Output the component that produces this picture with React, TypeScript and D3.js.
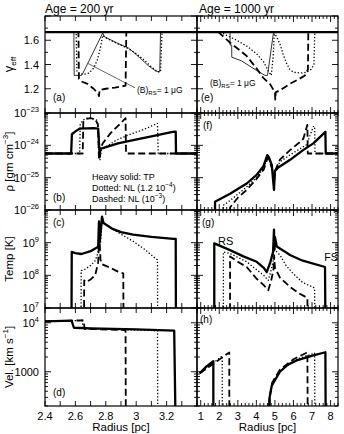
import React, { useEffect, useRef } from "react";
import * as d3 from "d3";

type Pt = [number, number];

// values used for "off the panel" stretches (clipped away)
const G53 = 5 / 3;
const RHO_ISM = 5.6e-25;
const RHO_OFF = 1e-28;
const T_OFF = 1e5;
const V_OFF = 50;

// radius axes
const radiusDomain200: [number, number] = [2.4, 3.4];
const radiusDomain1000: [number, number] = [0.8, 8.4];
const radiusLabels200 = [2.4, 2.6, 2.8, 3, 3.2];
const radiusLabels1000 = [1, 2, 3, 4, 5, 6, 7, 8];

// y axes
const gammaDomain: [number, number] = [1.0, 1.8];
const rhoDomain: [number, number] = [1e-26, 1e-23];
const tempDomain: [number, number] = [1e7, 1e10];
const velDomain: [number, number] = [200, 2e4];
const gammaLabels = [1.2, 1.4, 1.6];
const rhoLabelExp = [-23, -24, -25, -26];
const tempLabelExp = [9, 8, 7];
const velLabels = ["10^4", "1000"];
const velLabelValues = [1e4, 1000];

// ---- Age = 200 yr ----
const gamma200TP: Pt[] = [[2.4, G53], [3.4, G53]];
const gamma200Dotted: Pt[] = [
  [2.4, G53], [2.605, G53], [2.61, 1.34], [2.63, 1.32], [2.66, 1.32], [2.69, 1.33],
  [2.72, 1.37], [2.745, 1.44], [2.765, 1.54], [2.78, 1.64], [2.8, 1.62], [2.88, 1.57],
  [2.95, 1.53], [3.0, 1.49], [3.05, 1.44], [3.1, 1.38], [3.14, 1.34], [3.16, 1.34],
  [3.17, G53], [3.4, G53],
];
const gamma200Dashed: Pt[] = [
  [2.4, G53], [2.62, G53], [2.623, 1.28], [2.64, 1.26], [2.68, 1.24], [2.72, 1.2],
  [2.75, 1.16], [2.755, 1.14], [2.76, 1.19], [2.8, 1.2], [2.86, 1.21], [2.93, 1.225],
  [2.935, G53], [3.4, G53],
];
const gamma200Thin: Pt[] = [
  [2.4, G53], [2.59, G53], [2.592, 1.31], [2.64, 1.31], [2.65, 1.33], [2.78, 1.66],
  [2.79, 1.63], [2.87, 1.58], [2.95, 1.535], [3.02, 1.46], [3.08, 1.39], [3.13, 1.345],
  [3.155, 1.34], [3.16, G53], [3.4, G53],
];

const rho200TP: Pt[] = [
  [2.4, RHO_ISM], [2.572, RHO_ISM], [2.577, 2.2e-24], [2.6, 2.7e-24], [2.63, 3.3e-24],
  [2.72, 3.4e-24], [2.75, 3.3e-24], [2.755, 1.2e-24], [2.76, 4.5e-25], [2.765, 8e-25],
  [2.78, 8.2e-25], [2.88, 1.15e-24], [2.98, 1.45e-24], [3.1, 1.9e-24], [3.24, 2.6e-24],
  [3.26, 2.65e-24], [3.262, RHO_ISM], [3.4, RHO_ISM],
];
const rho200Dotted: Pt[] = [
  [2.4, RHO_ISM], [2.628, RHO_ISM], [2.632, 4.5e-24], [2.65, 6e-24], [2.67, 6.9e-24],
  [2.71, 6.8e-24], [2.74, 6e-24], [2.755, 2e-24], [2.762, 3.6e-25], [2.77, 7e-25],
  [2.8, 9e-25], [2.87, 1.45e-24], [2.95, 2.1e-24], [3.05, 3.1e-24], [3.14, 4.8e-24],
  [3.145, RHO_ISM], [3.4, RHO_ISM],
];
const rho200Dashed: Pt[] = [
  [2.4, RHO_ISM], [2.648, RHO_ISM], [2.652, 5.2e-24], [2.67, 6.5e-24], [2.7, 6.9e-24],
  [2.73, 6.4e-24], [2.748, 4.5e-24], [2.755, 3.8e-25], [2.765, 8e-25], [2.78, 1.15e-24],
  [2.83, 2.35e-24], [2.88, 4e-24], [2.93, 6.9e-24], [2.933, RHO_ISM], [3.4, RHO_ISM],
];

const temp200TP: Pt[] = [
  [2.4, T_OFF], [2.573, T_OFF], [2.576, 5.2e8], [2.6, 4.8e8], [2.64, 4.5e8], [2.7, 5.5e8],
  [2.75, 7.5e8], [2.755, 4.5e9], [2.76, 1e9], [2.775, 6.3e9], [2.785, 4e9], [2.8, 3.6e9],
  [2.84, 2.7e9], [2.9, 2.1e9], [2.98, 1.75e9], [3.1, 1.5e9], [3.245, 1.3e9], [3.26, 1.3e9],
  [3.262, T_OFF],
];
const temp200Dotted: Pt[] = [
  [2.4, T_OFF], [2.636, T_OFF], [2.638, 1.4e8], [2.66, 1.5e8], [2.7, 2e8], [2.73, 2.8e8],
  [2.75, 5e8], [2.758, 4.5e9], [2.765, 1e9], [2.775, 4.2e9], [2.8, 3.5e9], [2.87, 2.2e9],
  [2.98, 1.1e9], [3.05, 6.5e8], [3.13, 3.2e8], [3.14, 3e8], [3.142, T_OFF],
];
const temp200Dashed: Pt[] = [
  [2.4, T_OFF], [2.655, T_OFF], [2.658, 7e7], [2.67, 6.2e7], [2.7, 7.5e7], [2.73, 1e8],
  [2.75, 2.5e8], [2.757, 2e9], [2.765, 3e8], [2.775, 2.2e8], [2.83, 1.7e8], [2.88, 1.3e8],
  [2.915, 1.15e8], [2.918, T_OFF],
];

const vel200TP: Pt[] = [
  [2.4, 1.07e4], [2.575, 1.1e4], [2.59, 7.9e3], [2.7, 7.7e3], [3.0, 7.3e3], [3.25, 6.9e3],
  [3.26, V_OFF],
];
const vel200Dotted: Pt[] = [
  [2.4, 1.07e4], [2.64, 1.11e4], [2.645, 1.2e4], [2.65, 7.6e3], [3.14, 6.9e3], [3.142, V_OFF],
];
const vel200Dashed: Pt[] = [
  [2.4, 1.07e4], [2.655, 1.12e4], [2.66, 7.5e3], [2.93, 7.1e3], [2.932, V_OFF],
];

// ---- Age = 1000 yr ----
const gamma1000TP: Pt[] = [[0.8, G53], [8.4, G53]];
const gamma1000Dotted: Pt[] = [
  [0.8, G53], [2.1, G53], [2.4, 1.64], [2.94, 1.6], [3.5, 1.55], [4.0, 1.49], [4.4, 1.42],
  [4.63, 1.35], [4.8, 1.31], [4.9, 1.45], [4.97, G53], [5.05, 1.64], [5.27, 1.57],
  [5.45, 1.48], [5.64, 1.405], [5.8, 1.36], [6.0, 1.336], [6.4, 1.33], [6.71, 1.336],
  [6.95, 1.36], [7.1, 1.4], [7.15, G53], [8.4, G53],
];
const gamma1000Dashed: Pt[] = [
  [0.8, G53], [1.95, G53], [2.3, 1.62], [2.58, 1.58], [3.0, 1.53], [3.48, 1.47], [4.0, 1.37],
  [4.37, 1.29], [4.73, 1.24], [5.0, 1.17], [5.02, 1.11], [5.04, 1.17], [5.3, 1.19],
  [5.8, 1.24], [6.3, 1.28], [6.62, 1.31], [6.78, 1.36], [6.8, G53], [8.4, G53],
];
const gamma1000Thin: Pt[] = [
  [0.8, G53], [2.58, G53], [2.585, 1.56], [2.67, 1.56], [2.675, 1.46], [3.2, 1.43],
  [4.02, 1.35], [4.47, 1.31], [4.6, 1.31], [4.9, 1.64], [4.93, G53], [8.4, G53],
];

const rho1000TP: Pt[] = [
  [1.77, RHO_OFF], [1.772, 1.8e-26], [2.58, 3.2e-26], [3.48, 6.6e-26], [4.0, 1.2e-25],
  [4.37, 2.2e-25], [4.59, 5e-25], [4.65, 4.6e-25], [4.83, 2.5e-25], [4.95, 4.2e-26],
  [5.0, 1.6e-25], [5.2, 2.1e-25], [5.8, 3.5e-25], [6.5, 7e-25], [7.07, 1.15e-24],
  [7.72, 2.6e-24], [7.74, RHO_ISM], [8.4, RHO_ISM],
];
const rho1000Dotted: Pt[] = [
  [2.22, RHO_OFF], [2.222, 1.4e-26], [2.6, 2e-26], [3.48, 5.2e-26], [4.0, 1e-25],
  [4.4, 2e-25], [4.62, 4.5e-25], [4.7, 4e-25], [4.86, 2e-25], [4.95, 6e-26], [5.0, 1.5e-25],
  [5.27, 3.1e-25], [5.8, 5e-25], [6.3, 7.5e-25], [6.71, 1.05e-24], [7.07, 3.8e-24],
  [7.14, 3.9e-24], [7.16, RHO_ISM], [8.4, RHO_ISM],
];
const rho1000Dashed: Pt[] = [
  [2.58, RHO_OFF], [2.582, 1.2e-26], [3.0, 2.4e-26], [3.48, 4.2e-26], [4.0, 9e-26],
  [4.4, 1.8e-25], [4.6, 4e-25], [4.68, 3.8e-25], [4.86, 1.8e-25], [4.95, 7e-26],
  [5.0, 1.6e-25], [5.27, 3.6e-25], [5.8, 7e-25], [6.3, 1.2e-24], [6.53, 1.6e-24],
  [6.75, 4.3e-24], [6.77, RHO_ISM], [8.4, RHO_ISM],
];

const temp1000TP: Pt[] = [
  [1.73, T_OFF], [1.732, 9.5e8], [2.58, 5.9e8], [3.3, 3.8e8], [4.02, 2.6e8], [4.4, 1.7e8],
  [4.56, 1.25e8], [4.75, 2.5e8], [4.9, 5.2e8], [4.95, 2.5e9], [4.97, 6e8], [5.0, 1.5e9],
  [5.1, 7.6e8], [5.5, 5.5e8], [5.81, 4.2e8], [6.5, 2.8e8], [7.7, 1.8e8], [7.74, T_OFF],
];
const temp1000Dotted: Pt[] = [
  [2.22, T_OFF], [2.222, 5.2e8], [2.6, 4.6e8], [3.48, 2.6e8], [4.0, 1.5e8], [4.4, 1e8],
  [4.64, 7e7], [4.8, 1.5e8], [4.92, 3e8], [4.96, 1.5e9], [5.0, 6e8], [5.27, 4.2e8],
  [5.6, 2e8], [6.0, 1.1e8], [6.5, 6e7], [7.07, 4.3e7], [7.14, 4e7], [7.16, T_OFF],
];
const temp1000Dashed: Pt[] = [
  [2.58, T_OFF], [2.582, 3.8e8], [3.0, 2.6e8], [3.48, 1.8e8], [4.0, 8e7], [4.4, 5e7],
  [4.64, 3.5e7], [4.8, 7e7], [4.92, 1.5e8], [4.96, 4e8], [5.0, 1.7e8], [5.27, 8.5e7],
  [5.8, 4.5e7], [6.3, 2.8e7], [6.71, 2.1e7], [6.75, 2e7], [6.77, T_OFF],
];

const vel1000TP: Pt[] = [
  [0.95, 930], [1.3, 1270], [1.68, 1640], [1.682, V_OFF], [4.65, V_OFF], [4.7, 280],
  [4.83, 520], [5.27, 1000], [5.7, 1400], [6.17, 1700], [7.07, 2150], [7.72, 2500],
  [7.74, V_OFF],
];
const vel1000Dotted: Pt[] = [
  [0.95, 930], [2.16, 2100], [2.162, V_OFF], [4.67, V_OFF], [4.72, 300], [4.85, 560],
  [5.27, 1050], [6.17, 1800], [7.07, 2350], [7.14, 2400], [7.16, V_OFF],
];
const vel1000Dashed: Pt[] = [
  [0.95, 930], [2.54, 2480], [2.542, V_OFF], [4.68, V_OFF], [4.73, 320], [4.85, 600],
  [5.27, 1100], [6.0, 1800], [6.71, 2450], [6.75, 2480], [6.77, V_OFF],
];

// layout
const W = 344;
const H = 434;
const colX = [[45, 197], [197, 338]];
const rowY = [16, 113, 210, 308, 406];
const FONT = "'Liberation Sans', Arial, Helvetica, sans-serif";

const lineStyles: Record<string, { w: number; dash: string | null }> = {
  dashed: { w: 1.8, dash: "7 3.5" },
  dotted: { w: 1.3, dash: "1.3 2" },
  thin: { w: 0.8, dash: null },
  tp: { w: 2.3, dash: null },
};

type Panel = {
  col: number;
  row: number;
  letter: string;
  letterPos: [number, number];
  series: Record<string, Pt[]>;
};

const panels: Panel[] = [
  { col: 0, row: 0, letter: "(a)", letterPos: [8, 85], series: { dashed: gamma200Dashed, dotted: gamma200Dotted, thin: gamma200Thin, tp: gamma200TP } },
  { col: 0, row: 1, letter: "(b)", letterPos: [8, 88], series: { dashed: rho200Dashed, dotted: rho200Dotted, tp: rho200TP } },
  { col: 0, row: 2, letter: "(c)", letterPos: [8, 16], series: { dashed: temp200Dashed, dotted: temp200Dotted, tp: temp200TP } },
  { col: 0, row: 3, letter: "(d)", letterPos: [8, 88], series: { dashed: vel200Dashed, dotted: vel200Dotted, tp: vel200TP } },
  { col: 1, row: 0, letter: "(e)", letterPos: [4, 85], series: { dashed: gamma1000Dashed, dotted: gamma1000Dotted, thin: gamma1000Thin, tp: gamma1000TP } },
  { col: 1, row: 1, letter: "(f)", letterPos: [6, 16], series: { dashed: rho1000Dashed, dotted: rho1000Dotted, tp: rho1000TP } },
  { col: 1, row: 2, letter: "(g)", letterPos: [5, 16], series: { dashed: temp1000Dashed, dotted: temp1000Dotted, tp: temp1000TP } },
  { col: 1, row: 3, letter: "(h)", letterPos: [3, 15], series: { dashed: vel1000Dashed, dotted: vel1000Dotted, tp: vel1000TP } },
];

const yScaleFor = (row: number, y0: number, y1: number) => {
  if (row === 0) return d3.scaleLinear().domain(gammaDomain).range([y1, y0]);
  const dom = row === 1 ? rhoDomain : row === 2 ? tempDomain : velDomain;
  return d3.scaleLog().domain(dom).range([y1, y0]);
};

// "10" with a raised exponent
const powerLabel = (sel: any, base: string, exp: string, big = 11, small = 7.5) => {
  sel.append("tspan").attr("font-size", big).text(base);
  sel.append("tspan").attr("font-size", small).attr("dy", -5).text(exp);
};

const App = () => {
  const svgRef = useRef<SVGSVGElement>(null);

  useEffect(() => {
    const svg = d3.select(svgRef.current);
    svg.selectAll("*").remove();
    const defs = svg.append("defs");

    const scalesFor = (p: Panel) => {
      const [x0, x1] = colX[p.col];
      const y0 = rowY[p.row];
      const y1 = rowY[p.row + 1];
      const x = d3.scaleLinear().domain(p.col ? radiusDomain1000 : radiusDomain200).range([x0, x1]);
      const y: any = yScaleFor(p.row, y0, y1);
      return { x, y, x0, x1, y0, y1 };
    };

    panels.forEach((p, i) => {
      const { x, y, x0, x1, y0, y1 } = scalesFor(p);
      defs.append("clipPath").attr("id", `clip${i}`)
        .append("rect").attr("x", x0).attr("y", y0).attr("width", x1 - x0).attr("height", y1 - y0);

      const g = svg.append("g").attr("clip-path", `url(#clip${i})`);
      const line = d3.line<Pt>().x((d) => x(d[0])).y((d) => y(d[1]));
      Object.keys(lineStyles).forEach((k) => {
        const data = p.series[k];
        if (!data) return;
        const st = lineStyles[k];
        g.append("path")
          .attr("d", line(data))
          .attr("fill", "none")
          .attr("stroke", "#000")
          .attr("stroke-width", st.w)
          .attr("stroke-dasharray", st.dash)
          .attr("stroke-linejoin", "round");
      });

      // ticks
      const tk = svg.append("g").attr("stroke", "#000").attr("stroke-width", 0.9);
      const xt: [number, number][] = p.col === 0
        ? d3.range(24, 35).map((v) => [v / 10, 5])
        : d3.range(4, 43).map((v) => [v / 5, v % 5 === 0 ? 6 : 3]);
      xt.forEach(([v, len]) => {
        const px = x(v);
        tk.append("line").attr("x1", px).attr("x2", px).attr("y1", y0).attr("y2", y0 + len);
        tk.append("line").attr("x1", px).attr("x2", px).attr("y1", y1).attr("y2", y1 - len);
      });
      let yt: [number, number][];
      if (p.row === 0) {
        yt = d3.range(10, 19).map((v) => [v / 10, v % 2 === 0 ? 6 : 3]);
      } else {
        yt = (y.ticks() as number[]).map((v) => {
          const e = Math.log10(v);
          return [v, Math.abs(e - Math.round(e)) < 1e-9 ? 6 : 3];
        });
      }
      yt.forEach(([v, len]) => {
        const py = y(v);
        tk.append("line").attr("x1", x0).attr("x2", x0 + len).attr("y1", py).attr("y2", py);
        tk.append("line").attr("x1", x1).attr("x2", x1 - len).attr("y1", py).attr("y2", py);
      });

      svg.append("rect").attr("x", x0).attr("y", y0).attr("width", x1 - x0).attr("height", y1 - y0)
        .attr("fill", "none").attr("stroke", "#000").attr("stroke-width", 1.2);

      svg.append("text").attr("x", x0 + p.letterPos[0]).attr("y", y0 + p.letterPos[1])
        .attr("font-size", 10).attr("font-family", FONT).text(p.letter);

      // bottom radius labels
      if (p.row === 3) {
        const labs = p.col === 0 ? radiusLabels200 : radiusLabels1000;
        labs.forEach((v) => {
          svg.append("text").attr("x", x(v)).attr("y", 420).attr("text-anchor", "middle")
            .attr("font-size", 11).attr("font-family", FONT).text(String(v));
        });
        svg.append("text").attr("x", (x0 + x1) / 2).attr("y", 431).attr("text-anchor", "middle")
          .attr("font-size", 11.5).attr("font-family", FONT).text("Radius [pc]");
      }

      // left tick labels
      if (p.col === 0) {
        const lab = (v: number) => svg.append("text").attr("x", 39).attr("y", y(v) + 4)
          .attr("text-anchor", "end").attr("font-family", FONT).attr("font-size", 11);
        if (p.row === 0) gammaLabels.forEach((v) => lab(v).text(v.toFixed(1)));
        if (p.row === 1) rhoLabelExp.forEach((e) => powerLabel(lab(Math.pow(10, e)), "10", `\u2212${-e}`));
        if (p.row === 2) tempLabelExp.forEach((e) => powerLabel(lab(Math.pow(10, e)), "10", String(e)));
        if (p.row === 3) velLabelValues.forEach((v, j) => {
          const t = lab(v);
          if (velLabels[j].includes("^")) powerLabel(t, "10", velLabels[j].split("^")[1]);
          else t.text(velLabels[j]);
        });
      }
    });

    // annotations
    const pa = scalesFor(panels[0]);
    svg.append("line")
      .attr("x1", pa.x(2.683)).attr("y1", pa.y(1.408)).attr("x2", pa.x(2.992)).attr("y2", pa.y(1.208))
      .attr("stroke", "#000").attr("stroke-width", 0.6);
    const bLabel = (sx: number, sy: number) => {
      const t = svg.append("text").attr("x", sx).attr("y", sy).attr("font-family", FONT).attr("font-size", 8.5);
      t.append("tspan").text("(B)");
      t.append("tspan").attr("font-size", 6).attr("dy", 2).text("RS");
      t.append("tspan").attr("dy", -2).text("= 1 \u03bcG");
    };
    bLabel(pa.x(3.005), pa.y(1.167));
    const pe = scalesFor(panels[4]);
    bLabel(pe.x(1.5), pe.y(1.225));

    const pg = scalesFor(panels[6]);
    svg.append("text").attr("x", pg.x(1.93)).attr("y", pg.y(8.5e8)).attr("font-family", FONT)
      .attr("font-size", 11).text("RS");
    svg.append("text").attr("x", pg.x(7.66)).attr("y", pg.y(2.7e8)).attr("font-family", FONT)
      .attr("font-size", 10.5).text("FS");

    // legend in panel (b)
    const leg = svg.append("g").attr("font-family", FONT).attr("font-size", 9);
    leg.append("text").attr("x", 92).attr("y", 180).text("Heavy solid: TP");
    const l2 = leg.append("text").attr("x", 92).attr("y", 191);
    l2.append("tspan").text("Dotted: NL (1.2 10");
    l2.append("tspan").attr("font-size", 6.5).attr("dy", -4).text("\u22124");
    l2.append("tspan").attr("dy", 4).text(")");
    const l3 = leg.append("text").attr("x", 92).attr("y", 202);
    l3.append("tspan").text("Dashed: NL (10");
    l3.append("tspan").attr("font-size", 6.5).attr("dy", -4).text("\u22123");
    l3.append("tspan").attr("dy", 4).text(")");

    // titles
    svg.append("text").attr("x", 45).attr("y", 13).attr("font-family", FONT).attr("font-size", 12)
      .text("Age = 200 yr");
    svg.append("text").attr("x", 199).attr("y", 13).attr("font-family", FONT).attr("font-size", 12)
      .text("Age = 1000 yr");

    // y-axis titles
    const ytitle = (cy: number) => svg.append("text")
      .attr("transform", `translate(13,${cy}) rotate(-90)`)
      .attr("text-anchor", "middle").attr("font-family", FONT).attr("font-size", 11.5);
    const mid = (r: number) => (rowY[r] + rowY[r + 1]) / 2;
    const tg = ytitle(mid(0));
    tg.append("tspan").attr("font-size", 13).text("\u03b3");
    tg.append("tspan").attr("font-size", 8).attr("dy", 3).text("eff");
    const tr = ytitle(mid(1));
    tr.append("tspan").text("\u03c1  [gm cm");
    tr.append("tspan").attr("font-size", 8).attr("dy", -5).text("\u22123");
    tr.append("tspan").attr("dy", 5).text("]");
    ytitle(mid(2)).text("Temp [K]");
    const tv = ytitle(mid(3));
    tv.append("tspan").text("Vel. [km s");
    tv.append("tspan").attr("font-size", 8).attr("dy", -5).text("\u22121");
    tv.append("tspan").attr("dy", 5).text("]");
  }, []);

  return (
    <div style={{ position: "absolute", left: 0, top: 0, width: W, height: H, background: "#fff" }}>
      <svg ref={svgRef} width={W} height={H}></svg>
    </div>
  );
};

export default App;
